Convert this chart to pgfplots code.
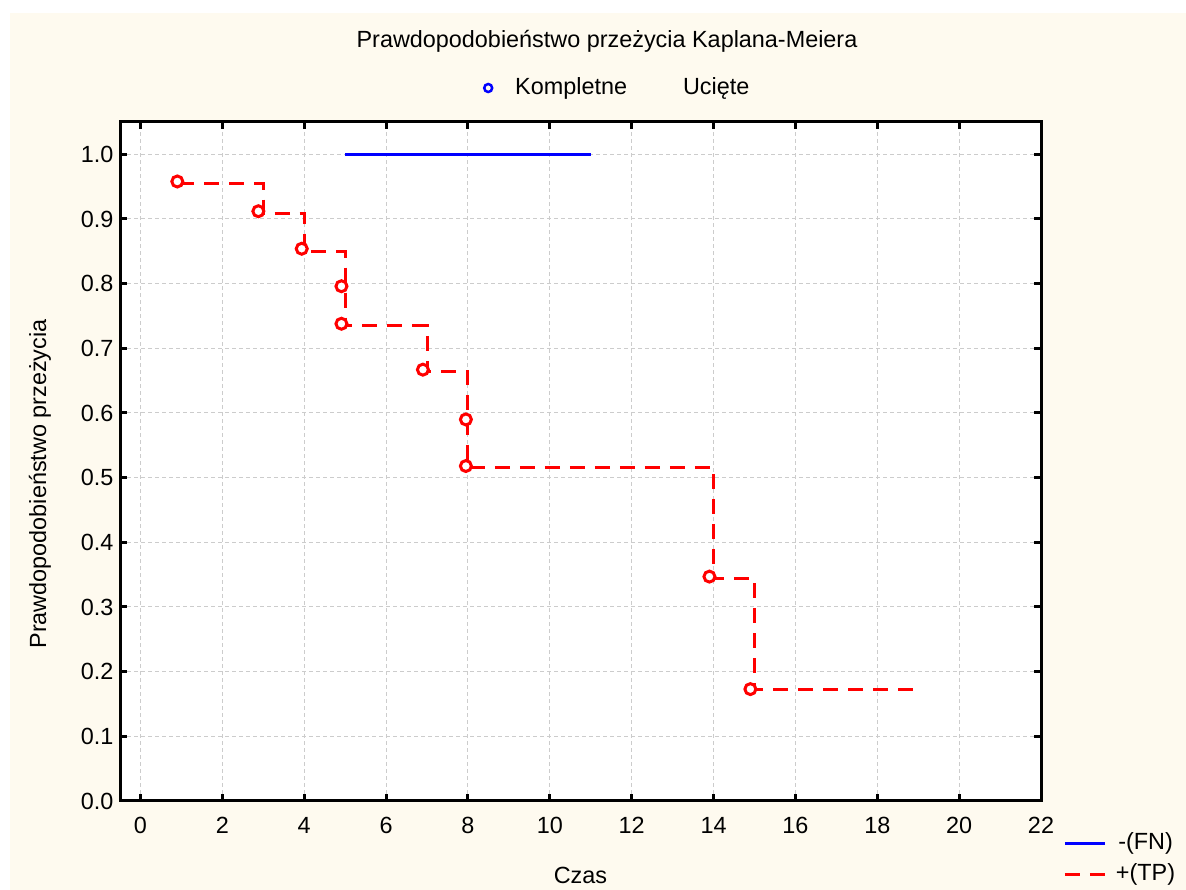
\documentclass[border=0pt]{standalone}
\usepackage{fontspec}
\setmainfont{Liberation Sans}
\usepackage{pgfplots}
\pgfplotsset{compat=1.18}
\definecolor{cream}{RGB}{254,250,239}
\definecolor{kmred}{RGB}{255,0,0}
\definecolor{kmblue}{RGB}{0,0,255}
\newcommand{\f}{\fontsize{23.4}{27}\selectfont}
\pgfplotsset{
  kmmark/.style={legend image code/.code={\draw[##1] plot coordinates {(0pt,0pt)}; \path[draw=none,fill=none] (-6pt,0pt) rectangle (27pt,0.1pt);}},
  kmempty/.style={legend image code/.code={\path[draw=none,fill=none] (0pt,0pt) rectangle (56pt,0.1pt);}},
}
\begin{document}
\begin{tikzpicture}[x=1pt,y=1pt]
\fill[white] (0,0) rectangle (1186,890);
\fill[cream] (10,0) rectangle (1186,877);
\begin{axis}[
  at={(120pt,89pt)}, anchor=south west,
  scale only axis, width=921pt, height=679pt,
  xmin=-0.5, xmax=22, ymin=0, ymax=1.05,
  xtick={0,2,...,22},
  ytick={0,0.1,0.2,0.3,0.4,0.5,0.6,0.7,0.8,0.9,1.0},
  /pgf/number format/assume math mode=true,
  yticklabel style={/pgf/number format/fixed, /pgf/number format/fixed zerofill, /pgf/number format/precision=1, xshift=-3pt},
  ticklabel style={font=\f},
  xticklabel style={yshift=-13pt},
  axis background/.style={fill=white},
  axis line style={line width=3pt},
  tick style={black, line width=3pt},
  major tick length=7pt,
  tick align=inside,
  grid=major,
  grid style={gray!40, line width=1pt, dash pattern=on 4pt off 3pt},
  title={Prawdopodobieństwo przeżycia Kaplana-Meiera},
  title style={font=\f, at={(axis description cs:0.5288,1.1105)}, anchor=center},
  xlabel={Czas}, ylabel={Prawdopodobieństwo przeżycia},
  every axis x label/.style={at={(axis description cs:0.5,-0.109)}, anchor=center, font=\f},
  every axis y label/.style={at={(axis description cs:-0.0869,0.467)}, rotate=90, anchor=center, font=\f},
  legend style={at={(axis description cs:1.0239,-0.044)}, anchor=north west, draw=none, fill=none, font=\f, inner sep=0pt,
    nodes={inner sep=2pt, text height=16pt, text depth=5pt}, row sep=6pt},
  legend image code/.code={\draw[#1] (0pt,0pt) -- (40pt,0pt); \path[draw=none,fill=none] (0pt,0pt) rectangle (49pt,0.1pt);},
]
\addplot[kmblue, line width=3.5pt] coordinates {(5,1.0) (11,1.0)};
\addlegendentry{-(FN)}
\addplot[kmred, line width=3pt, dash pattern=on 15pt off 10pt] coordinates {
  (0.95,0.955) (3,0.955) (3,0.909) (4,0.909) (4,0.850) (5,0.850) (5,0.735)
  (7,0.735) (7,0.664) (8,0.664) (8,0.515) (14,0.515) (14,0.344) (15,0.344)
  (15,0.172) (19,0.172)};
\addlegendentry{+(TP)}
\addplot[only marks, mark=*, mark size=5.5pt, mark options={fill=white, draw=kmred, line width=3pt}, forget plot] coordinates {
  (0.90,0.958) (2.88,0.912) (3.94,0.854) (4.91,0.796) (4.91,0.738)
  (6.90,0.667) (7.95,0.590) (7.95,0.518) (13.90,0.347) (14.90,0.173)};
\end{axis}
\begin{axis}[at={(0pt,0pt)}, anchor=south west, scale only axis, width=1186pt, height=890pt,
  hide axis, xmin=0, xmax=1, ymin=0, ymax=1,
  legend style={at={(axis description cs:0.4064,0.9011)}, anchor=west, draw=none, fill=none, font=\f,
    inner sep=0pt, legend columns=2, nodes={inner sep=0pt, text height=17pt, text depth=5pt}},
]
\addlegendimage{only marks, mark=o, kmblue, mark size=4pt, line width=2.5pt, kmmark}
\addlegendentry{Kompletne}
\addlegendimage{kmempty}
\addlegendentry{Ucięte}
\end{axis}
\pgfresetboundingbox
\path (0,0) rectangle (1186,890);
\end{tikzpicture}
\end{document}
